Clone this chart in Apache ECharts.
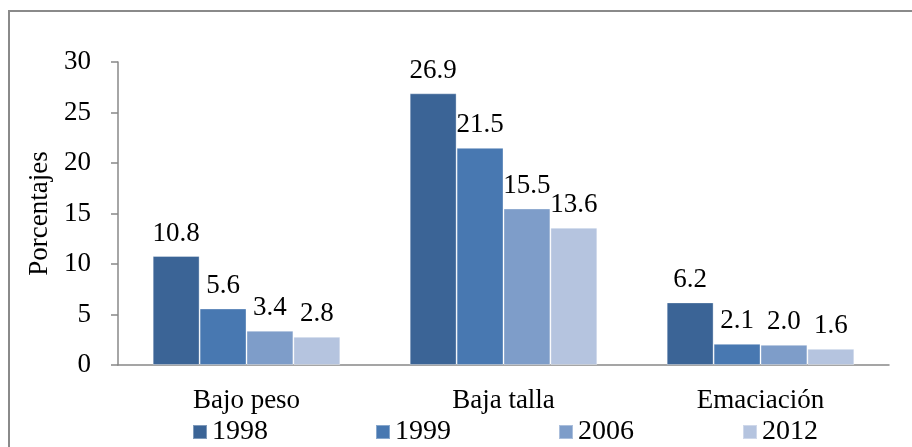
<!DOCTYPE html>
<html>
<head>
<meta charset="utf-8">
<script src="https://cdn.jsdelivr.net/npm/echarts@6/dist/echarts.min.js"></script>
<style>
  html, body { margin: 0; padding: 0; background: #fff; }
  #chart { width: 912px; height: 447px; }
</style>
</head>
<body>
<div id="chart"></div>
<script>
// datos
const categories = ['Bajo peso', 'Baja talla', 'Emaciación'];
const years = ['1998', '1999', '2006', '2012'];
const v1998 = [10.8, 26.9, 6.2];
const v1999 = [5.6, 21.5, 2.1];
const v2006 = [3.4, 15.5, 2.0];
const v2012 = [2.8, 13.6, 1.6];
const yTicks = [0, 5, 10, 15, 20, 25, 30];

const colors = ['#3B6496', '#4878B1', '#7E9DC9', '#B5C4DF'];
const values = [v1998, v1999, v2006, v2012];
const legendLeft = [187, 370, 553, 737];
const font = 'Liberation Serif';

const myChart = echarts.init(document.getElementById('chart'));
myChart.setOption({
  animation: false,
  color: colors,
  textStyle: { fontFamily: font, color: '#000' },
  graphic: [{
    type: 'rect',
    shape: { x: 9, y: 11, width: 1000, height: 1000 },
    style: { fill: 'none', stroke: '#8a8a8a', lineWidth: 2 },
    silent: true
  }],
  grid: { left: 118, right: 23, top: 62, bottom: 82 },
  // una leyenda por año para fijar el espaciado
  legend: years.map((y, i) => ({
    data: [y],
    left: legendLeft[i],
    top: 413,
    itemWidth: 14,
    itemHeight: 14,
    itemGap: 0,
    icon: 'rect',
    textStyle: { fontFamily: font, fontSize: 28, color: '#000', padding: [6, 0, 0, 0] }
  })),
  xAxis: {
    type: 'category',
    data: categories,
    axisLine: { lineStyle: { color: '#888', width: 1.5 } },
    axisTick: { length: 7, lineStyle: { color: '#888', width: 1.5 } },
    axisLabel: { fontFamily: font, fontSize: 27, color: '#000', margin: 22 }
  },
  yAxis: {
    type: 'value',
    min: yTicks[0],
    max: yTicks[yTicks.length - 1],
    interval: 5,
    name: 'Porcentajes',
    nameLocation: 'middle',
    nameGap: 64,
    nameTextStyle: { fontFamily: font, fontSize: 27, color: '#000' },
    axisLine: { show: true, lineStyle: { color: '#888', width: 1.5 } },
    axisTick: { show: true, length: 7, lineStyle: { color: '#888', width: 1.5 } },
    splitLine: { show: false },
    axisLabel: { fontFamily: font, fontSize: 27, color: '#000', margin: 27 }
  },
  series: years.map((y, i) => ({
    name: y,
    type: 'bar',
    data: values[i],
    barGap: '0%',
    barCategoryGap: '27%',
    itemStyle: { borderColor: 'rgba(255,255,255,0.35)', borderWidth: 1 },
    label: {
      show: true,
      position: 'top',
      distance: 9,
      fontFamily: font,
      fontSize: 27,
      color: '#000',
      formatter: p => p.value.toFixed(1)
    }
  }))
});
</script>
</body>
</html>
